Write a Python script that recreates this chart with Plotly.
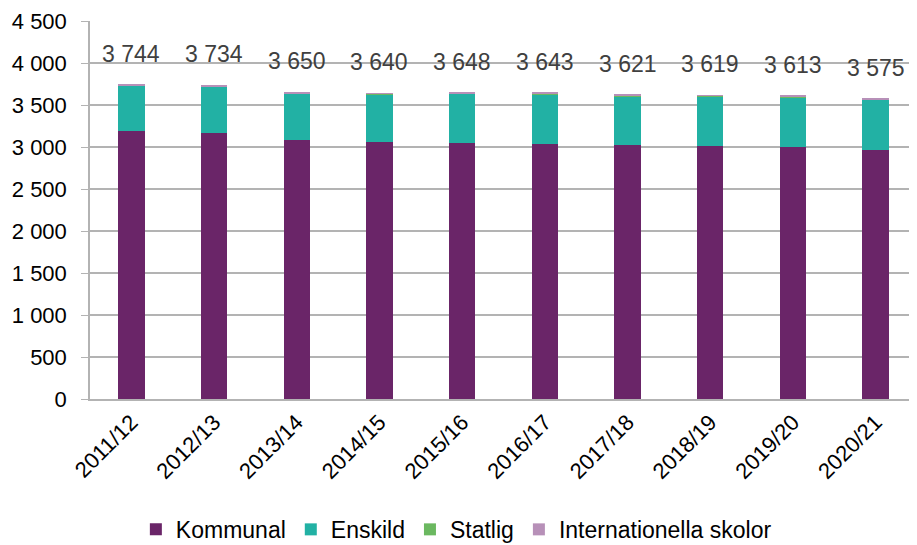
import plotly.graph_objects as go

years = ["2011/12", "2012/13", "2013/14", "2014/15", "2015/16",
         "2016/17", "2017/18", "2018/19", "2019/20", "2020/21"]
totals = [3744, 3734, 3650, 3640, 3648, 3643, 3621, 3619, 3613, 3575]
kommunal = [3187, 3167, 3085, 3062, 3048, 3036, 3025, 3012, 2997, 2960]
statlig = [0, 0, 5, 8, 8, 8, 8, 8, 8, 8]
internationella = [8, 8, 8, 8, 8, 8, 8, 8, 12, 6]
enskild = [t - k - s - i for t, k, s, i in zip(totals, kommunal, statlig, internationella)]

def fmt(v):
    return f"{v:,}".replace(",", " ")

fig = go.Figure()
series = [("Kommunal", kommunal, "#6a2568"),
          ("Enskild", enskild, "#22b1a4"),
          ("Statlig", statlig, "#6bb860"),
          ("Internationella skolor", internationella, "#b790b8")]
for name, vals, col in series:
    fig.add_trace(go.Bar(x=years, y=vals, name=name, marker_color=col,
                         marker_line_width=0))

for y, t in zip(years, totals):
    fig.add_annotation(x=y, y=t, text=fmt(t), showarrow=False, yshift=31,
                       font=dict(size=23, color="#404040"))

fig.update_layout(
    barmode="stack", bargap=0.68, width=909, height=537,
    margin=dict(l=82, r=0, t=13, b=146, autoexpand=False),
    plot_bgcolor="white", paper_bgcolor="white",
    font=dict(family="Liberation Sans, Arial", size=22, color="#000000"),
    legend=dict(orientation="h", x=0.443, xanchor="center", y=-0.345, yanchor="middle",
                font=dict(size=23), traceorder="normal"),
    showlegend=True,
)
fig.update_yaxes(range=[0, 4500], tickvals=list(range(0, 4501, 500)),
                 ticktext=[fmt(v) for v in range(0, 4501, 500)],
                 showgrid=True, gridcolor="#b3b3b3", gridwidth=1.5,
                 showline=True, linecolor="#b3b3b3", linewidth=1.5,
                 ticks="outside", ticklen=7, tickcolor="#b3b3b3", zeroline=False,
                 automargin=False, tickfont=dict(size=22), ticklabelstandoff=10)
fig.update_xaxes(tickangle=-45, showline=True, linecolor="#b3b3b3", linewidth=1.5,
                 tickfont=dict(size=22), automargin=False)

fig.write_html("out.html")
